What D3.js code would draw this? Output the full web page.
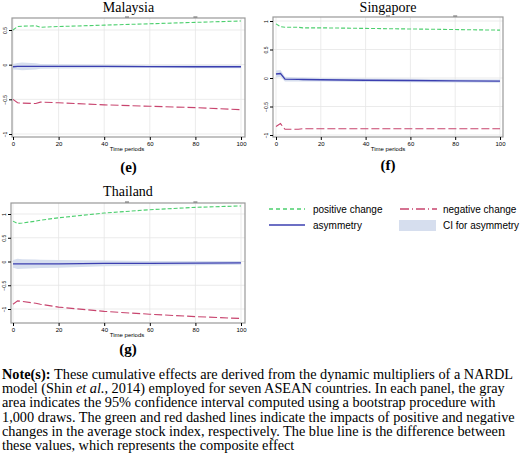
<!DOCTYPE html>
<html><head><meta charset="utf-8">
<script src="https://cdn.jsdelivr.net/npm/d3@7"></script>
<style>body{margin:0;background:#fff}svg{display:block}</style>
</head><body>
<svg id="chart" width="520" height="456"></svg>
<script>
// periods sampled for each series
const periods = [0, 2, 4, 10, 12, 20, 40, 60, 80, 100];

const malaysiaPos = [0.50, 0.55, 0.555, 0.56, 0.54, 0.55, 0.57, 0.59, 0.61, 0.63];
const malaysiaNeg = [-0.50, -0.55, -0.555, -0.56, -0.54, -0.55, -0.58, -0.60, -0.62, -0.65];
const malaysiaAsym = [-0.03, -0.025, -0.025, -0.025, -0.025, -0.025, -0.025, -0.028, -0.03, -0.03];
const malaysiaCI = [0.04, 0.05, 0.055, 0.045, 0.035, 0.03, 0.025, 0.02, 0.02, 0.02];

const singaporePos = [0.95, 0.90, 0.89, 0.89, 0.88, 0.88, 0.87, 0.86, 0.85, 0.84];
const singaporeNeg = [-0.85, -0.80, -0.90, -0.90, -0.89, -0.89, -0.89, -0.89, -0.89, -0.89];
const singaporeAsym = [0.07, 0.08, -0.02, -0.025, -0.025, -0.03, -0.04, -0.045, -0.05, -0.055];
const singaporeCI = [0.06, 0.06, 0.04, 0.035, 0.035, 0.03, 0.03, 0.03, 0.03, 0.03];

const thailandPos = [0.85, 0.80, 0.81, 0.85, 0.87, 0.92, 1.02, 1.09, 1.14, 1.17];
const thailandNeg = [-0.90, -0.83, -0.84, -0.88, -0.90, -0.96, -1.05, -1.11, -1.16, -1.20];
const thailandAsym = [-0.05, -0.05, -0.05, -0.05, -0.05, -0.05, -0.04, -0.04, -0.035, -0.03];
const thailandCI = [0.08, 0.11, 0.10, 0.09, 0.085, 0.08, 0.06, 0.05, 0.045, 0.04];

const xTicks = [0, 20, 40, 60, 80, 100];
const legendLabels = ["positive change", "negative change", "asymmetry", "CI for asymmetry"];
const noteLines = [
  ["These cumulative effects are derived from the dynamic multipliers of a NARDL"],
  ["model (Shin ", "et al.,", " 2014) employed for seven ASEAN countries. In each panel, the gray"],
  ["area indicates the 95% confidence interval computed using a bootstrap procedure with"],
  ["1,000 draws. The green and red dashed lines indicate the impacts of positive and negative"],
  ["changes in the average stock index, respectively. The blue line is the difference between"],
  ["these values, which represents the composite effect"]
];

const GREEN = "#4ccf6e", RED = "#c8446e", BLUE = "#3b3fb0", CIFILL = "#d6deee";
const svg = d3.select("#chart");

const panels = [
  {title: "Malaysia", tag: "(e)", box: [12, 18, 245, 137], xr: [13, 241], yd: [-1, 0.5], yr: [134, 30],
   yt: [-1, -0.5, 0, 0.5], pos: malaysiaPos, neg: malaysiaNeg, asym: malaysiaAsym, ci: malaysiaCI, ty: 12, gy: 172},
  {title: "Singapore", tag: "(f)", box: [273, 17, 503, 137], xr: [276, 500], yd: [-1, 1], yr: [135, 21],
   yt: [-1, -0.5, 0, 0.5, 1], pos: singaporePos, neg: singaporeNeg, asym: singaporeAsym, ci: singaporeCI, ty: 12, gy: 170},
  {title: "Thailand", tag: "(g)", box: [11, 203, 245, 323], xr: [13, 241], yd: [-1, 1], yr: [309, 214],
   yt: [-1, -0.5, 0, 0.5, 1], pos: thailandPos, neg: thailandNeg, asym: thailandAsym, ci: thailandCI, ty: 196, gy: 354}
];

panels.forEach(p => {
  const [x0, y0, x1, y1] = p.box;
  const x = d3.scaleLinear().domain([0, 100]).range(p.xr);
  const y = d3.scaleLinear().domain(p.yd).range(p.yr);
  const g = svg.append("g");

  g.append("text").attr("x", (x0 + x1) / 2).attr("y", p.ty).attr("text-anchor", "middle")
    .style("font", "14px 'Liberation Serif'").text(p.title);

  // grid
  g.selectAll(".gx").data(xTicks).join("line")
    .attr("x1", d => x(d)).attr("x2", d => x(d)).attr("y1", y0).attr("y2", y1)
    .attr("stroke", "#e6e6e6").attr("stroke-width", 0.8);
  g.selectAll(".gy").data(p.yt).join("line")
    .attr("x1", x0).attr("x2", x1).attr("y1", d => y(d)).attr("y2", d => y(d))
    .attr("stroke", "#e6e6e6").attr("stroke-width", 0.8);

  const idx = d3.range(periods.length);
  g.append("path").datum(idx)
    .attr("d", d3.area().x(i => x(periods[i])).y0(i => y(p.asym[i] - p.ci[i])).y1(i => y(p.asym[i] + p.ci[i])))
    .attr("fill", CIFILL);
  const line = arr => d3.line().x(i => x(periods[i])).y(i => y(arr[i]));
  g.append("path").datum(idx).attr("d", line(p.asym)).attr("fill", "none").attr("stroke", BLUE).attr("stroke-width", 1.4);
  g.append("path").datum(idx).attr("d", line(p.pos)).attr("fill", "none").attr("stroke", GREEN)
    .attr("stroke-width", 1.1).attr("stroke-dasharray", "4,2");
  g.append("path").datum(idx).attr("d", line(p.neg)).attr("fill", "none").attr("stroke", RED)
    .attr("stroke-width", 1.1).attr("stroke-dasharray", "8,3");

  g.append("rect").attr("x", x0).attr("y", y0).attr("width", x1 - x0).attr("height", y1 - y0)
    .attr("fill", "none").attr("stroke", "#999").attr("stroke-width", 1.2);
  // small top marks
  [50, 80].forEach(v => g.append("line").attr("x1", x(v) - 2).attr("x2", x(v) + 2)
    .attr("y1", y0 - 1).attr("y2", y0 - 1).attr("stroke", "#666").attr("stroke-width", 1));

  const xa = g.append("g").attr("transform", `translate(0,${y1})`)
    .call(d3.axisBottom(x).tickValues(xTicks).tickSize(3).tickFormat(d3.format("d")));
  xa.select(".domain").remove();
  xa.selectAll("text").style("font", "6px 'Liberation Sans'").attr("dy", "0.5em");
  g.append("text").attr("x", x(50)).attr("y", y1 + 14).attr("text-anchor", "middle")
    .style("font", "6px 'Liberation Sans'").text("Time periods");

  const ya = g.append("g").attr("transform", `translate(${x0},0)`)
    .call(d3.axisLeft(y).tickValues(p.yt).tickSize(3).tickFormat(d => d === 0 ? "0" : d3.format("")(d)));
  ya.select(".domain").remove();
  ya.selectAll("text").style("font", "5px 'Liberation Sans'")
    .attr("x", 0).attr("y", 0).attr("dy", 0).attr("dominant-baseline", "auto")
    .attr("transform", "translate(-5,0) rotate(-90)").attr("text-anchor", "middle");

  g.append("text").attr("x", (x0 + x1) / 2).attr("y", p.gy).attr("text-anchor", "middle")
    .style("font", "bold 15px 'Liberation Serif'").text(p.tag);
});

// legend
const lg = svg.append("g").style("font", "10px 'Liberation Sans'");
lg.append("line").attr("x1", 269).attr("x2", 305).attr("y1", 209).attr("y2", 209)
  .attr("stroke", GREEN).attr("stroke-width", 1.3).attr("stroke-dasharray", "4,3");
lg.append("text").attr("x", 313).attr("y", 213).text(legendLabels[0]);
lg.append("line").attr("x1", 400).attr("x2", 437).attr("y1", 209).attr("y2", 209)
  .attr("stroke", RED).attr("stroke-width", 1.3).attr("stroke-dasharray", "9,3,1,3");
lg.append("text").attr("x", 443).attr("y", 213).text(legendLabels[1]);
lg.append("line").attr("x1", 269).attr("x2", 305).attr("y1", 225).attr("y2", 225)
  .attr("stroke", BLUE).attr("stroke-width", 1.5);
lg.append("text").attr("x", 313).attr("y", 229).text(legendLabels[2]);
lg.append("rect").attr("x", 399).attr("y", 220).attr("width", 37).attr("height", 11).attr("fill", CIFILL);
lg.append("text").attr("x", 443).attr("y", 229).text(legendLabels[3]);

// note
const note = svg.append("g").style("font", "14.3px 'Liberation Serif'");
noteLines.forEach((parts, i) => {
  const t = note.append("text").attr("x", 2).attr("y", 379 + i * 14.2);
  if (i === 0) t.append("tspan").style("font-weight", "bold").text("Note(s): ");
  parts.forEach(s => t.append("tspan").style("font-style", s === "et al.," ? "italic" : null).text(s));
});
</script>
</body></html>
